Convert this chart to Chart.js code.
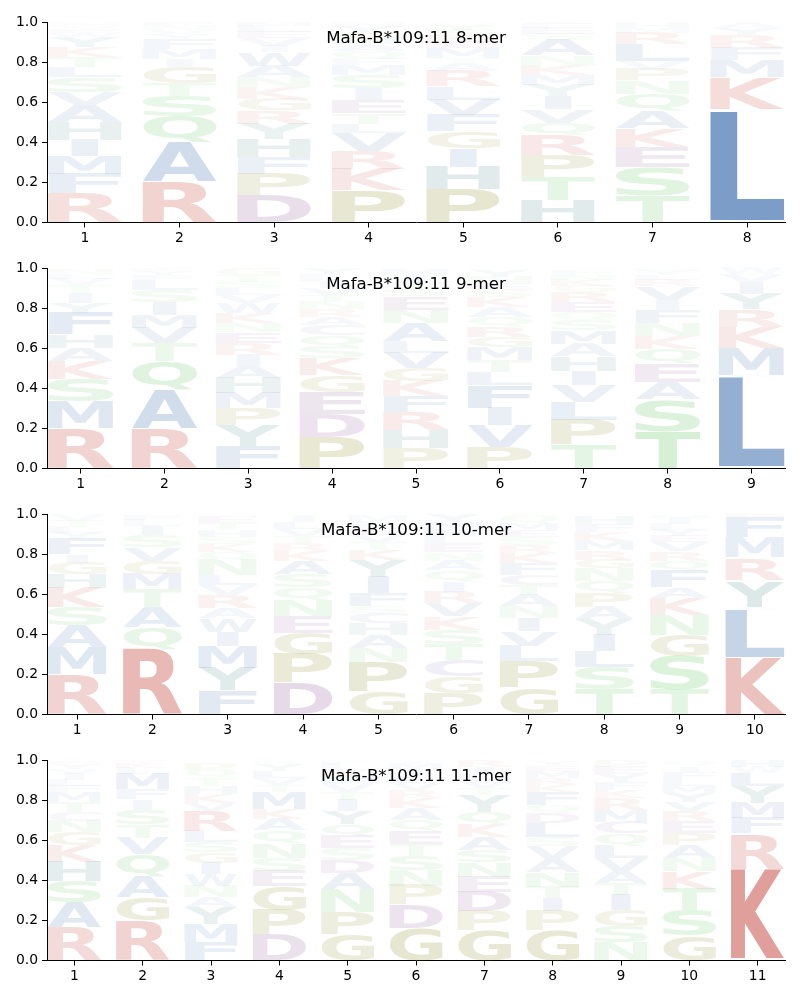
<!DOCTYPE html>
<html>
<head>
<meta charset="utf-8">
<script src="https://cdn.jsdelivr.net/npm/chart.js@4.4.1/dist/chart.umd.min.js"></script>
<style>
  body { margin: 0; background: #fff; }
  #wrap { position: relative; width: 800px; height: 1000px; }
  canvas { position: absolute; left: 0; }
</style>
</head>
<body>
<div id="wrap">
  <canvas id="logo8" width="800" height="250" style="top:0px"></canvas>
  <canvas id="logo9" width="800" height="250" style="top:246px"></canvas>
  <canvas id="logo10" width="800" height="250" style="top:492px"></canvas>
  <canvas id="logo11" width="800" height="250" style="top:738px"></canvas>
</div>
<script>
// Panel titles
var titles = ['Mafa-B*109:11 8-mer', 'Mafa-B*109:11 9-mer', 'Mafa-B*109:11 10-mer', 'Mafa-B*109:11 11-mer'];

// Y ticks shared by all panels
var yTicks = [0, 0.2, 0.4, 0.6, 0.8, 1.0];

// Peptide positions (x categories)
var pos8 = [1, 2, 3, 4, 5, 6, 7, 8];
var pos9 = [1, 2, 3, 4, 5, 6, 7, 8, 9];
var pos10 = [1, 2, 3, 4, 5, 6, 7, 8, 9, 10];
var pos11 = [1, 2, 3, 4, 5, 6, 7, 8, 9, 10, 11];

// Letters of each column, stacked bottom to top, with their heights
var letters8 = ['RFMIHAVSLTKYWEQN', 'RAQSTGIMFYVNE', 'DPFHYRGKNAWIVELM', 'PKRVLTEISMFQAHGYN',
                'PHIGFVLRATMEKSYQ', 'HTPRQVIYMKNASEFG', 'TSEKAQNPVLRMH', 'ILVKMFRYA'];
var heights8 = [
  [.145, .095, .09, .083, .088, .083, .065, .075, .053, .05, .05, .05, .02, .02, .02, .013],
  [.203, .194, .133, .1, .066, .078, .04, .05, .05, .025, .02, .02, .021],
  [.136, .108, .083, .09, .075, .066, .058, .058, .05, .058, .066, .03, .04, .03, .03, .02],
  [.16, .108, .09, .088, .045, .055, .066, .058, .066, .05, .03, .04, .035, .03, .025, .03, .024],
  [.166, .113, .093, .083, .083, .075, .066, .075, .04, .025, .05, .03, .03, .03, .026, .015],
  [.111, .116, .108, .1, .063, .066, .066, .058, .05, .05, .045, .075, .03, .03, .023, .009],
  [.136, .141, .1, .091, .086, .088, .066, .058, .04, .083, .058, .025, .025],
  [.012, .539, .017, .158, .083, .063, .061, .035, .028]
];

var letters9 = ['RMSKAHFYITVLN', 'RAQTVMISLFYK', 'FYPMHAIRENKWVLSTG', 'PDEGKSQCARNTVILY',
                'PHRFKGVLANESTIM', 'PVIFLTMGRQAKSENY', 'TPLVIHAMSQERGKNF', 'TSAEQKNFIVRLYM',
                'FLAMKRHYIVW'];
var heights9 = [
  [.2, .133, .113, .091, .066, .066, .108, .05, .05, .04, .03, .025, .023],
  [.2, .19, .146, .091, .075, .066, .063, .061, .05, .025, .02, .013],
  [.111, .103, .088, .075, .075, .061, .055, .058, .053, .046, .05, .05, .04, .035, .03, .035, .03],
  [.158, .116, .108, .083, .083, .058, .058, .05, .041, .041, .036, .035, .035, .035, .03, .031],
  [.1, .091, .091, .08, .075, .066, .075, .058, .09, .066, .066, .035, .035, .033, .033],
  [.108, .108, .088, .111, .066, .058, .066, .05, .053, .046, .05, .05, .035, .035, .033, .033],
  [.12, .121, .091, .083, .071, .073, .063, .066, .05, .041, .05, .05, .03, .03, .026, .025],
  [.186, .158, .088, .091, .071, .066, .066, .066, .05, .066, .03, .025, .023, .012],
  [.013, .444, .011, .133, .105, .083, .005, .078, .058, .04, .03]
];

var letters10 = ['RMASKHGIFYLTV', 'RQATMGVSILF', 'FYMIWARVLNQKSHTE', 'DPGENQSAKRTVLI',
                 'GPNAHCSFIYKTVELM', 'PGCTSKVRIQANELFMY', 'GPLVINATCFKRSEMQ', 'TSLIYAPQNGRMKFH',
                 'TSGNKAFQRVEYLIH', 'VKILAYWRSMTFE'];
var heights10 = [
  [.2, .133, .11, .091, .095, .071, .058, .041, .075, .03, .03, .03, .03],
  [.324, .111, .1, .091, .075, .066, .066, .061, .046, .03, .023],
  [.12, .113, .11, .07, .066, .05, .066, .05, .05, .075, .041, .04, .035, .035, .035, .033],
  [.158, .141, .108, .083, .078, .066, .066, .066, .05, .04, .035, .035, .035, .033],
  [.116, .145, .071, .066, .058, .05, .033, .066, .083, .083, .05, .04, .035, .035, .03, .03],
  [.108, .083, .083, .078, .071, .066, .066, .058, .05, .055, .05, .041, .04, .04, .035, .035, .036],
  [.133, .133, .078, .071, .066, .058, .058, .05, .05, .058, .05, .04, .04, .035, .035, .036],
  [.125, .111, .08, .083, .075, .063, .07, .06, .061, .045, .045, .045, .045, .04, .041],
  [.125, .166, .106, .1, .083, .055, .083, .05, .045, .046, .03, .03, .03, .03, .015],
  [.003, .279, .007, .234, .012, .126, .01, .101, .012, .096, .007, .096, .017]
];

var letters11 = ['RASHKGNCTMFLIVYE', 'RGAQVTSIFMLKY', 'FMYANWIGSLRVKHTQP', 'DPGESNQAKMTVLYR',
                 'GPNADSEQYITVMKLF', 'GDPNSTEQAKRVLIMY', 'GPDENSAKQYTVLIR', 'GPITNAVSLDQFKRMEY',
                 'NSGITAVLQCMRKFYEP', 'GSTKNAPERVYMLFIQ', 'VKARIFMYLWH'];
var heights11 = [
  [.166, .125, .105, .095, .083, .066, .056, .046, .05, .05, .03, .03, .03, .025, .025, .015],
  [.2, .116, .103, .11, .083, .066, .075, .05, .05, .075, .03, .028, .012],
  [.093, .091, .083, .05, .055, .058, .056, .055, .05, .055, .1, .041, .045, .04, .04, .04, .035],
  [.13, .121, .12, .076, .066, .071, .066, .058, .05, .083, .035, .035, .035, .035, .015],
  [.13, .113, .113, .08, .066, .058, .061, .058, .066, .055, .04, .04, .035, .035, .03, .015],
  [.163, .116, .095, .075, .071, .061, .063, .058, .058, .05, .04, .035, .035, .03, .03, .015],
  [.15, .095, .095, .078, .07, .063, .066, .063, .063, .083, .035, .035, .035, .035, .03],
  [.15, .095, .066, .058, .071, .066, .063, .045, .07, .05, .041, .066, .035, .035, .035, .028, .02],
  [.091, .08, .08, .076, .058, .061, .066, .061, .061, .058, .058, .058, .04, .04, .04, .038, .03],
  [.125, .126, .108, .086, .066, .066, .061, .058, .05, .045, .045, .035, .035, .035, .028, .025],
  [.01, .439, .009, .17, .008, .075, .075, .083, .066, .03, .035]
];

// Residue colour groups
var groupColors = [
  {chars: 'KR', rgb: [201, 88, 78]},
  {chars: 'AVLIMFW', rgb: [69, 116, 175]},
  {chars: 'HY', rgb: [50, 120, 120]},
  {chars: 'PG', rgb: [140, 140, 40]},
  {chars: 'DE', rgb: [133, 75, 143]},
  {chars: 'STNQ', rgb: [88, 193, 88]},
  {chars: 'C', rgb: [120, 100, 180]}
];

// Letters fade with their height
function letterColor(ch, h) {
  var rgb = [128, 128, 128];
  groupColors.forEach(function(g) {
    if (g.chars.indexOf(ch) >= 0) rgb = g.rgb;
  });
  var a = Math.min(1, 1.3 * h);
  return 'rgba(' + rgb[0] + ',' + rgb[1] + ',' + rgb[2] + ',' + a.toFixed(3) + ')';
}

// Draws one letter stretched into its bar box
function drawGlyph(ctx, ch, left, top, w, h, color) {
  ctx.save();
  ctx.font = 'bold 100px "DejaVu Sans"';
  ctx.textAlign = 'left';
  ctx.textBaseline = 'alphabetic';
  var m = ctx.measureText(ch);
  var e = ctx.measureText('E');
  var gw = m.actualBoundingBoxLeft + m.actualBoundingBoxRight;
  var gh = m.actualBoundingBoxAscent + m.actualBoundingBoxDescent;
  var ew = e.actualBoundingBoxLeft + e.actualBoundingBoxRight;
  // narrow letters are not stretched more than E would be
  var sx = w / Math.max(gw, ew);
  var sy = h / gh;
  ctx.translate(left + (w - gw * sx) / 2, top);
  ctx.scale(sx, sy);
  ctx.fillStyle = color;
  ctx.fillText(ch, m.actualBoundingBoxLeft, m.actualBoundingBoxAscent);
  ctx.restore();
}

var glyphPlugin = {
  id: 'glyphs',
  afterDatasetsDraw: function(chart) {
    var ctx = chart.ctx;
    chart.data.datasets.forEach(function(ds, d) {
      var meta = chart.getDatasetMeta(d);
      meta.data.forEach(function(bar, j) {
        var p = bar.getProps(['x', 'y', 'base', 'width'], true);
        var top = Math.min(p.y, p.base);
        var h = Math.abs(p.base - p.y);
        if (h < 0.3) return;
        drawGlyph(ctx, ds.chars[j], p.x - p.width / 2, top, p.width, h, letterColor(ds.chars[j], ds.data[j].y));
      });
    });
  }
};

var titlePlugin = {
  id: 'panelTitle',
  afterDraw: function(chart) {
    var ctx = chart.ctx;
    var area = chart.chartArea;
    ctx.save();
    ctx.font = '16.67px "DejaVu Sans"';
    ctx.fillStyle = '#000';
    ctx.textAlign = 'center';
    ctx.textBaseline = 'alphabetic';
    ctx.fillText(chart.options.plugins.panelTitle.text, (area.left + area.right) / 2, area.top + 20.5);
    ctx.restore();
  }
};

// One stacked dataset per layer of letters
function buildDatasets(letters, heights, positions) {
  var layers = 0;
  letters.forEach(function(col) { layers = Math.max(layers, col.length); });
  var sets = [];
  for (var k = 0; k < layers; k++) {
    var data = [], chars = [];
    letters.forEach(function(col, i) {
      if (k < col.length) {
        data.push({x: positions[i], y: heights[i][k]});
        chars.push(col[k]);
      }
    });
    sets.push({
      data: data,
      chars: chars,
      backgroundColor: 'rgba(0,0,0,0)',
      borderWidth: 0,
      barPercentage: 0.78,
      categoryPercentage: 1
    });
  }
  return sets;
}

var tickFont = {family: 'DejaVu Sans', size: 13.9};
var axisBorder = {display: true, color: '#000', width: 1};
function axisGrid() {
  return {display: true, drawOnChartArea: false, drawTicks: true, tickLength: 5, color: '#000', lineWidth: 1, offset: false};
}

function makeLogo(id, title, letters, heights, positions) {
  new Chart(document.getElementById(id), {
    type: 'bar',
    data: {datasets: buildDatasets(letters, heights, positions)},
    options: {
      responsive: false,
      animation: false,
      layout: {padding: {left: 0, right: 15, top: 22, bottom: 0}},
      plugins: {
        legend: {display: false},
        tooltip: {enabled: false},
        panelTitle: {text: title}
      },
      scales: {
        x: {
          type: 'linear',
          offset: false,
          stacked: true,
          min: 0.6,
          max: positions.length + 0.4,
          afterBuildTicks: function(axis) {
            axis.ticks = positions.map(function(v) { return {value: v}; });
          },
          afterFit: function(axis) { axis.height = 27.5; },
          grid: axisGrid(),
          border: axisBorder,
          ticks: {font: tickFont, color: '#000', padding: 3, maxRotation: 0, autoSkip: false,
                  callback: function(v) { return String(v); }}
        },
        y: {
          stacked: true,
          min: 0,
          max: 1,
          afterBuildTicks: function(axis) {
            axis.ticks = yTicks.map(function(v) { return {value: v}; });
          },
          afterFit: function(axis) { axis.width = 47; },
          grid: axisGrid(),
          border: axisBorder,
          ticks: {font: tickFont, color: '#000', padding: 4,
                  callback: function(v) { return v.toFixed(1); }}
        }
      }
    },
    plugins: [glyphPlugin, titlePlugin]
  });
}

makeLogo('logo8', titles[0], letters8, heights8, pos8);
makeLogo('logo9', titles[1], letters9, heights9, pos9);
makeLogo('logo10', titles[2], letters10, heights10, pos10);
makeLogo('logo11', titles[3], letters11, heights11, pos11);
</script>
</body>
</html>
